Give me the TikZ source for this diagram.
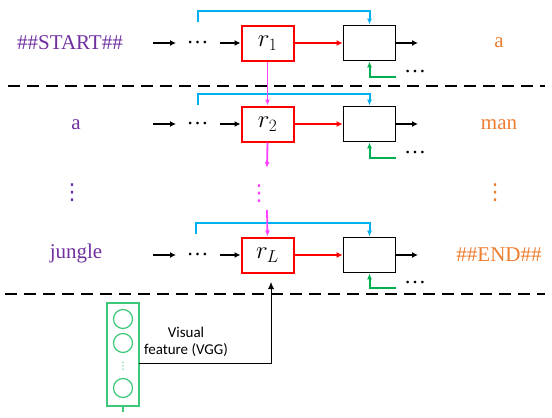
\documentclass[tikz,border=0pt]{standalone}
\usepackage{fontspec}
\setmainfont{Liberation Serif}
\newfontfamily\calib{Carlito}
\newfontfamily\djv{DejaVu Sans}
\usetikzlibrary{arrows.meta,calc}
\definecolor{wpurple}{HTML}{7030A0}
\definecolor{worange}{HTML}{ED7D31}
\definecolor{wblue}{HTML}{00B0F0}
\definecolor{wgreen}{HTML}{00B050}
\definecolor{wmag}{HTML}{FF40FF}
\definecolor{vgreen}{HTML}{3CC878}
\begin{document}
\begin{tikzpicture}[x=1pt,y=-1pt,
  every node/.style={inner sep=0pt},
  big/.style={font=\fontsize{21}{24}\selectfont},
  redbox/.style={draw=red,line width=2pt,minimum width=52pt,minimum height=35pt,font=\fontsize{25}{28}\selectfont},
  blkbox/.style={draw=black,line width=1.8pt,minimum width=52pt,minimum height=35pt},
  blk/.style={line width=1.8pt,-{Latex[length=6pt,width=6pt]}},
  redarr/.style={red,line width=1.8pt,-{Latex[length=6pt,width=6pt]}},
  bluearr/.style={wblue,line width=2pt,-{Latex[length=6pt,width=5pt]}},
  grnarr/.style={wgreen,line width=2pt,-{Latex[length=6pt,width=5pt]}},
  magarr/.style={wmag,line width=1.8pt,-{Latex[length=6pt,width=5pt]}},
  dashline/.style={line width=2pt,dash pattern=on 12pt off 7pt},
  dotsnode/.style={font=\fontsize{22}{24}\selectfont},
  vdotsnode/.style={font=\djv\fontsize{22}{24}\selectfont},
  vcirc/.style={draw=vgreen,line width=1.2pt,circle,minimum size=19pt}
]
\useasboundingbox (0,0) rectangle (552,418);

% ---------- row 1
\node[big,text=wpurple] (w1) at (70,43) {\#\#START\#\#};
\coordinate (s1a) at (153,43); \coordinate (s1b) at (176,43);
\node[dotsnode] (d1) at (197.5,43) {…};
\coordinate (s1c) at (220,43);
\node[redbox] (r1) at (267.5,43) {$r_1$};
\node[blkbox] (b1) at (369.5,43) {};
\coordinate (o1) at (418,43);
\node[big,text=worange] (y1) at (499,43) {a};
\draw[blk] (s1a) -- (s1b);
\draw[blk] (s1c) -- (r1.west);
\draw[redarr] (r1.east) -- (b1.west);
\draw[blk] (b1.east) -- (o1);
\coordinate (bl1) at (198,22);
\draw[bluearr] (bl1) |- ([yshift=14pt]b1.north) -- (b1.north);
\coordinate (g1) at (396,77);
\draw[grnarr] (g1) -| (b1.south);
\node[dotsnode] (gd1) at (415,72) {…};

\coordinate (dl1a) at (8,86); \coordinate (dl1b) at (545,86);
\draw[dashline] (dl1a) -- (dl1b);

% ---------- row 2
\node[big,text=wpurple] (w2) at (76,125) {a};
\coordinate (s2a) at (153,124); \coordinate (s2b) at (176,124);
\node[dotsnode] (d2) at (197.5,124) {…};
\coordinate (s2c) at (220,124);
\node[redbox] (r2) at (267.5,124) {$r_2$};
\node[blkbox] (b2) at (369.5,124) {};
\coordinate (o2) at (418,124);
\node[big,text=worange] (y2) at (499,125) {man};
\draw[blk] (s2a) -- (s2b);
\draw[blk] (s2c) -- (r2.west);
\draw[redarr] (r2.east) -- (b2.west);
\draw[blk] (b2.east) -- (o2);
\coordinate (bl2) at (198,105);
\draw[bluearr] (bl2) |- ([yshift=12pt]b2.north) -- (b2.north);
\coordinate (g2) at (396,158);
\draw[grnarr] (g2) -| (b2.south);
\node[dotsnode] (gd2) at (415,153) {…};
\draw[magarr] (r1.south) -- (r2.north);

% ---------- vertical dots
\node[vdotsnode,text=wpurple] (vd1) at (72,193) {⋮};
\node[vdotsnode,text=worange] (vd2) at (495,193) {⋮};
\node[vdotsnode,text=wmag] (vd3) at (259,194) {⋮};
\coordinate (m1) at (267,168);
\coordinate (m2) at (267,210);

% ---------- row L
\node[big,text=wpurple] (wL) at (76,253) {jungle};
\coordinate (sLa) at (153,255); \coordinate (sLb) at (176,255);
\node[dotsnode] (dL) at (197.5,255) {…};
\coordinate (sLc) at (220,255);
\node[redbox] (rL) at (267.5,255) {$r_L$};
\node[blkbox] (bL) at (369.5,255) {};
\coordinate (oL) at (418,255);
\node[big,text=worange] (yL) at (499,255) {\#\#END\#\#};
\draw[blk] (sLa) -- (sLb);
\draw[blk] (sLc) -- (rL.west);
\draw[redarr] (rL.east) -- (bL.west);
\draw[blk] (bL.east) -- (oL);
\coordinate (blL) at (196,234);
\draw[bluearr] (blL) |- ([yshift=14pt]bL.north) -- (bL.north);
\coordinate (gL) at (396,288);
\draw[grnarr] (gL) -| (bL.south);
\node[dotsnode] (gdL) at (415,283) {…};
\draw[magarr] (r2.south) -- (m1);
\draw[magarr] (m2) -- (rL.north);

\coordinate (dl2a) at (5,294); \coordinate (dl2b) at (545,294);
\draw[dashline] (dl2a) -- (dl2b);

% ---------- visual feature
\node[draw=vgreen,line width=1.2pt,minimum width=32pt,minimum height=103pt] (vgg) at (123,354.5) {};
\node[vcirc] (c1) at (123,319) {};
\node[vcirc] (c2) at (123,343) {};
\node[vcirc] (c3) at (123,388) {};
\node[font=\djv\fontsize{10}{12}\selectfont,text=vgreen] (cd) at (123,366) {⋮};
\coordinate (vt) at (123,412);
\draw[vgreen,line width=1.2pt] (vgg.south) -- (vt);
\node[font=\calib\fontsize{15}{18}\selectfont] (t1) at (186,332) {Visual};
\node[font=\calib\fontsize{15}{18}\selectfont] (t2) at (186,350) {feature (VGG)};
\coordinate (v1) at (139,363);
\coordinate (v2) at (271,282);
\draw[line width=0.8pt,-{Latex[length=7pt,width=6pt]}] (v1) -| (v2);
\end{tikzpicture}
\end{document}
